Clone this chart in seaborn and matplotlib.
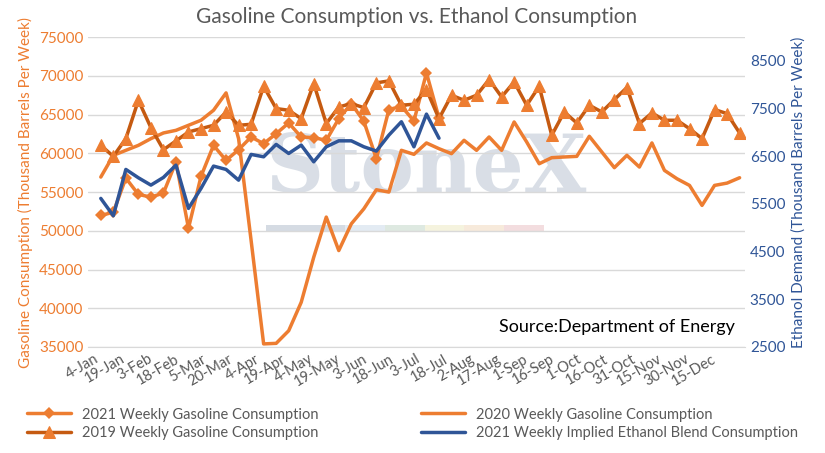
import pandas as pd
import matplotlib.pyplot as plt
import matplotlib.dates as mdates
import seaborn as sns
import numpy as np

# weekly data (thousand barrels per week)
weeks = pd.date_range("2021-01-04", periods=52, freq="7D")

gas_2021 = [51980, 52400, 56800, 54700, 54350, 54870, 58880, 50340, 57030, 61030,
            59090, 60470, 62110, 61250, 62540, 63920, 62110, 62030, 61680, 64480,
            66420, 64140, 59310, 65650, 66080, 64180, 70390, 64550]

gas_2020 = [56940, 59740, 60390, 61030, 61900, 62630, 62970, 63620, 64270, 65560,
            67800, 61900, 48750, 35400, 35470, 37100, 40770, 46590, 51770, 47450,
            50900, 52840, 55300, 55000, 60390, 59870, 61340, 60600, 59960, 61680,
            60390, 62110, 60390, 64050, 61470, 58660, 59440, 59530, 59610, 62200,
            60170, 58150, 59740, 58230, 61340, 57800, 56720, 55860, 53280, 55860,
            56160, 56850]

gas_2019 = [61030, 59610, 61900, 66850, 63320, 60470, 61600, 62760, 63190, 63620,
            65340, 63620, 63750, 68660, 65780, 65560, 64480, 69010, 63840, 65990,
            66420, 65900, 69100, 69350, 66210, 66340, 68230, 64480, 67500, 66850,
            67500, 69530, 67280, 69220, 66210, 68660, 62330, 65340, 63920, 66210,
            65340, 66940, 68490, 63840, 65220, 64270, 64270, 63190, 61900, 65650,
            65130, 62630]

ethanol_2021 = [5617, 5253, 6225, 6050, 5896, 6057, 6315, 5408, 5827, 6295,
                6225, 6000, 6540, 6490, 6750, 6560, 6735, 6385, 6700, 6825,
                6825, 6700, 6610, 6945, 7225, 6700, 7385, 6880]

tick_dates = pd.date_range("2021-01-04", "2021-12-20", freq="15D")

orange = "#ED7D31"
dark = "#C55A11"
blue = "#2F5597"

sns.set_style("white")
plt.rcParams['font.family'] = ['Liberation Sans Narrow', 'Lato', 'DejaVu Sans']

fig = plt.figure(figsize=(8.25, 4.53), dpi=100)
ax = fig.add_axes([0.107, 0.234, 0.796, 0.684])
ax2 = ax.twinx()

sns.lineplot(x=weeks[:len(gas_2021)], y=gas_2021, ax=ax, color=orange, lw=2.5,
             marker="D", markersize=6, markeredgewidth=0, label="2021 Weekly Gasoline Consumption")
sns.lineplot(x=weeks, y=gas_2020, ax=ax, color=orange, lw=2.5,
             label="2020 Weekly Gasoline Consumption")
sns.lineplot(x=weeks, y=gas_2019, ax=ax, color=dark, lw=2.5, marker="^", markersize=9,
             markerfacecolor=orange, markeredgecolor=orange, label="2019 Weekly Gasoline Consumption")
sns.lineplot(x=weeks[:len(ethanol_2021)], y=ethanol_2021, ax=ax2, color=blue, lw=2.5,
             label="2021 Weekly Implied Ethanol Blend Consumption")

ax.set_ylim(35000, 75000)
ax.set_yticks(range(35000, 75001, 5000))
ax2.set_ylim(2500, 9000)
ax2.set_yticks(range(2500, 8501, 1000))
ax.set_xlim(weeks[0] - pd.Timedelta(days=7), weeks[-1] + pd.Timedelta(days=3))
ax.set_xticks(tick_dates)
ax.xaxis.set_major_formatter(mdates.DateFormatter("%-d-%b"))
for lab in ax.get_xticklabels():
    lab.set_rotation(30)
    lab.set_ha("right")
ax.tick_params(axis="x", labelsize=10.5, colors="#595959", length=0)
ax.tick_params(axis="y", labelsize=11, colors=orange, length=0)
ax2.tick_params(axis="y", labelsize=11, colors=blue, length=0)
ax.grid(axis="y", color="#D9D9D9", lw=1)
for a in (ax, ax2):
    for s in a.spines.values():
        s.set_visible(False)
ax.spines["bottom"].set_visible(True)
ax.spines["bottom"].set_color("#D9D9D9")

ax.set_xlabel("")
ax.set_ylabel("Gasoline Consumption (Thousand Barrels Per Week)", color=orange, fontsize=11)
ax2.set_ylabel("Ethanol Demand (Thousand Barrels Per Week)", color=blue, fontsize=11)
ax.set_title("Gasoline Consumption vs. Ethanol Consumption", fontsize=15, color="#595959", pad=10)

# faint watermark
ax.text(0.27, 0.57, "StoneX", transform=ax.transAxes, fontsize=58, color="#C9D1DC",
        alpha=0.7, family="DejaVu Serif", fontweight="bold", ha="left", va="center", zorder=0)
bar_colors = ["#CBD3DD", "#CBD3DD", "#DCE6F0", "#D6E4DA", "#F3F1D6", "#F6E5D3", "#F1D5D8"]
for k, c in enumerate(bar_colors):
    ax.add_patch(plt.Rectangle((0.27 + k * 0.0605, 0.37), 0.0605, 0.025, transform=ax.transAxes,
                               color=c, alpha=0.8, zorder=0, lw=0))
ax.text(0.985, 0.04, "Source:Department of Energy", transform=ax.transAxes,
        fontsize=13, ha="right", va="bottom", color="black")

h1, l1 = ax.get_legend_handles_labels()
h2, l2 = ax2.get_legend_handles_labels()
ax.get_legend().remove()
ax2.get_legend().remove()
handles = [h1[0], h1[2], h1[1], h2[0]]
labels = [l1[0], l1[2], l1[1], l2[0]]
fig.legend(handles, labels, ncol=2, loc="lower center", bbox_to_anchor=(0.5, 0.0),
           frameon=False, fontsize=10.5, labelcolor="#595959", columnspacing=7, handlelength=3,
           labelspacing=0.3)

plt.savefig("out.png")
